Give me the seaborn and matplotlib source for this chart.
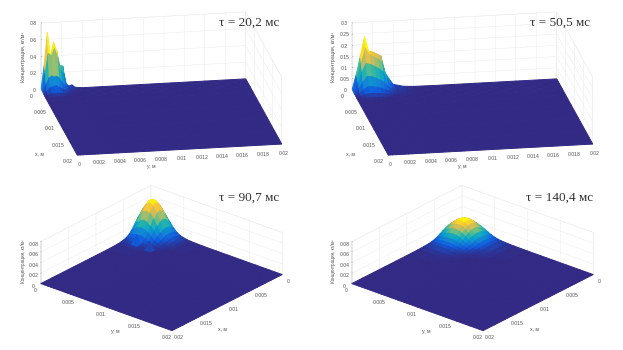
import numpy as np
import matplotlib
matplotlib.use('Agg')
import matplotlib.pyplot as plt
import seaborn as sns

# узлы сетки, мм
x_top_1 = [0, .5, 1, 1.5, 2, 2.5, 4, 8, 12, 16, 20]
y_top_1 = [0, .3, .6, .9, 1.2, 1.5, 1.8, 2.1, 2.4, 2.7, 3, 3.3, 4, 8, 12, 16, 20]
x_top_2 = [0, .5, 1, 1.5, 2, 2.5, 3, 3.5, 5, 8, 12, 16, 20]
y_top_2 = [0, .4, .8, 1.2, 1.6, 2, 2.4, 2.8, 3.2, 3.6, 4, 5, 6, 8, 12, 16, 20]
nodes_3 = [0, .5, 1, 1.5, 2, 2.5, 3, 3.5, 4, 4.5, 5, 5.5, 6, 8, 10, 12, 14, 16, 18, 20]
nodes_4 = [0, .5, 1, 1.5, 2, 2.5, 3, 3.5, 4, 4.5, 5, 5.5, 6, 7, 8, 10, 12, 14, 16, 18, 20]

# концентрация у угла области, остальная поверхность равна нулю
conc_1 = [
    [.02, .30, .68, .40, .56, .46, .28, .27, .06, .03, .04, .01],
    [.01, .22, .45, .42, .50, .40, .24, .20, .05, .02, .03, .01],
    [.01, .10, .18, .20, .20, .18, .13, .08, .03, .01, .02, .005],
    [.005, .04, .08, .09, .10, .08, .06, .04, .015, .008, .008, .003],
    [.002, .012, .025, .03, .03, .025, .02, .012, .006, .003, .003, .001],
    [0, .003, .006, .006, .006, .006, .004, .003, .001, .001, .001, 0],
]
conc_2 = [
    [.003, .070, .150, .235, .170, .165, .155, .145, .070, .040, .015, .004, .001],
    [.002, .060, .125, .190, .160, .150, .140, .125, .065, .035, .013, .004, .001],
    [.001, .045, .095, .130, .125, .115, .105, .090, .050, .028, .011, .003, .001],
    [.001, .028, .055, .078, .078, .070, .062, .050, .030, .018, .007, .003, .001],
    [.001, .013, .028, .040, .040, .036, .032, .025, .016, .010, .004, .002, .001],
    [0, .006, .012, .016, .017, .016, .014, .011, .007, .004, .002, .001, 0],
    [0, .002, .004, .005, .006, .005, .004, .003, .002, .001, .001, 0, 0],
    [0, .001, .001, .001, .001, .001, .001, .001, .001, 0, 0, 0, 0],
]
conc_3 = [
    [21.6, 29.7, 36, 38.4, 36, 29.7, 21.6, 13.8, 7.8, 4.6, 2.7, 1.5, .8],
    [29.7, 40.8, 49.4, 52.7, 49.4, 40.8, 29.7, 19, 10.7, 6.3, 3.7, 2.1, 1.1],
    [36, 49.4, 59.8, 63.8, 59.8, 49.4, 36, 23, 13, 7.7, 4.5, 2.6, 1.3],
    [38.4, 52.7, 63.8, 68, 63.8, 52.7, 38.4, 24.5, 13.8, 8.2, 4.8, 2.7, 1.4],
    [36, 49.4, 59.8, 63.8, 59.8, 49.4, 36, 23, 13, 7.7, 4.5, 2.6, 1.3],
    [29.7, 40.8, 49.4, 52.7, 49.4, 40.8, 29.7, 19, 10.7, 6.3, 3.7, 2.1, 1.1],
    [21.6, 29.7, 36, 38.4, 36, 29.7, 21.6, 13.8, 7.8, 4.6, 2.7, 1.5, .8],
    [13.8, 19, 23, 24.5, 23, 19, 13.8, 8.9, 5, 3, 1.7, 1, .5],
    [7.8, 10.7, 13, 13.8, 13, 10.7, 7.8, 5, 2.8, 1.7, 1, .6, .3],
    [4.6, 6.3, 7.7, 8.2, 7.7, 6.3, 4.6, 3, 1.7, 1, .6, .3, .2],
    [2.7, 3.7, 4.5, 4.8, 22, 3.7, 2.7, 1.7, 17, .6, .3, .2, .1],
    [1.5, 2.1, 2.6, 2.7, 2.6, 2.1, 1.5, 1, .6, .3, .2, .1, .1],
    [.8, 1.1, 1.3, 1.4, 1.3, 1.1, .8, .5, .3, .2, .1, .1, 0],
]
conc_4 = [
    [9, 12.2, 15.1, 17.2, 18, 17.2, 15.1, 12.2, 9, 6.1, 3.8, 2.3, 1.4, .7, .3],
    [12.2, 16.5, 20.5, 23.3, 24.4, 23.3, 20.5, 16.5, 12.2, 8.3, 5.1, 3.2, 2, 1, .4],
    [15.1, 20.5, 25.5, 29, 30.3, 29, 25.5, 20.5, 15.1, 10.3, 6.4, 3.9, 2.4, 1.2, .5],
    [17.2, 23.3, 29, 33, 34.5, 33, 29, 23.3, 17.2, 11.7, 7.2, 4.5, 2.8, 1.4, .5],
    [18, 24.4, 30.3, 34.5, 36, 34.5, 30.3, 24.4, 18, 12.2, 7.6, 4.7, 2.9, 1.4, .5],
    [17.2, 23.3, 29, 33, 34.5, 33, 29, 23.3, 17.2, 11.7, 7.2, 4.5, 2.8, 1.4, .5],
    [15.1, 20.5, 25.5, 29, 30.3, 29, 25.5, 20.5, 15.1, 10.3, 6.4, 3.9, 2.4, 1.2, .5],
    [12.2, 16.5, 20.5, 23.3, 24.4, 23.3, 20.5, 16.5, 12.2, 8.3, 5.1, 3.2, 2, 1, .4],
    [9, 12.2, 15.1, 17.2, 18, 17.2, 15.1, 12.2, 9, 6.1, 3.8, 2.3, 1.4, .7, .3],
    [6.1, 8.3, 10.3, 11.7, 12.2, 11.7, 10.3, 8.3, 6.1, 4.1, 2.6, 1.6, 1, .5, .2],
    [3.8, 5.1, 6.4, 7.2, 7.6, 7.2, 6.4, 5.1, 3.8, 2.6, 1.6, 1, .6, .3, .1],
    [2.3, 3.2, 3.9, 4.5, 4.7, 4.5, 3.9, 3.2, 2.3, 1.6, 1, .6, .4, .2, .1],
    [1.4, 2, 2.4, 2.8, 2.9, 2.8, 2.4, 2, 1.4, 1, .6, .4, .2, .1, 0],
    [.7, 1, 1.2, 1.4, 1.4, 1.4, 1.2, 1, .7, .5, .3, .2, .1, .1, 0],
    [.3, .4, .5, .5, .5, .5, .5, .4, .3, .2, .1, .1, 0, 0, 0],
]

titles = ['τ = 20,2 мс', 'τ = 50,5 мс', 'τ = 90,7 мс', 'τ = 140,4 мс']
z_tops = [.8, .3, .08, .08]
color_tops = [.5, .19, .066, .035]
z_ticks_top = [[0, .2, .4, .6, .8], [0, .05, .1, .15, .2, .25, .3]]
z_ticks_bottom = [0, .02, .04, .06, .08]
y_ticks_fine = [0, .002, .004, .006, .008, .01, .012, .014, .016, .018, .02]
ticks_coarse = [0, .005, .01, .015, .02]
z_label = 'Концентрация, кг/м³'

parula = ['#322a84', '#0f5cdd', '#1481d6', '#06a4ca', '#2eb7a4',
          '#87bf77', '#d1bb59', '#fec832', '#f9fb0e']

sns.set_theme(style='white', rc={'grid.color': '#ececec', 'grid.linewidth': .35,
                                 'axes.linewidth': .35, 'axes.edgecolor': '#c8c8c8'})
plt.rcParams['font.family'] = ['Liberation Sans', 'DejaVu Sans']
cmap = sns.blend_palette(parula, as_cmap=True)

W, H = 623, 350
AX = 300
fig = plt.figure(figsize=(W / 100, H / 100), dpi=100)


def surface_grid(x_mm, y_mm, block, scale=1.0):
    block = np.array(block) * scale
    pad_x = len(x_mm) - block.shape[0]
    pad_y = len(y_mm) - block.shape[1]
    z = np.pad(block, ((0, pad_x), (0, pad_y)))
    x, y = np.meshgrid(np.array(x_mm) * 1e-3, np.array(y_mm) * 1e-3, indexing='ij')
    return x, y, z


def px_text(px, py, s, **kw):
    fig.text(px / W, 1 - py / H, s, ha='center', va='center', **kw)


def draw_panel(cx, cy, view, box, zoom, grid, z_top, color_top, x_ticks, y_ticks, z_ticks, z_side):
    rect = [(cx - .5135 * AX) / W, (H - cy - .5135 * AX) / H, AX / W, AX / H]
    ax = fig.add_axes(rect, projection='3d', proj_type='ortho')
    ax.set_facecolor('none')
    ax.view_init(elev=view[0], azim=view[1])
    ax.set_box_aspect(box, zoom=zoom)
    x, y, z = grid
    surf = ax.plot_surface(x, y, z, cmap=cmap, vmin=0, vmax=color_top, rstride=1, cstride=1,
                           shade=False, linewidth=.7, antialiased=True)
    surf.set_edgecolor('face')
    ax.set_xlim(0, .02, view_margin=0)
    ax.set_ylim(0, .02, view_margin=0)
    ax.set_zlim(0, z_top, view_margin=0)
    ax.set_xticks(x_ticks, [f'{t:g}' for t in x_ticks])
    ax.set_yticks(y_ticks, [f'{t:g}' for t in y_ticks])
    ax.set_zticks(z_ticks, [f'{t:g}' for t in z_ticks])
    for axis in (ax.xaxis, ax.yaxis, ax.zaxis):
        axis.pane.set_fill(False)
        axis.pane.set_edgecolor('#dddddd')
        axis.pane.set_linewidth(.35)
        axis.line.set_color('#bbbbbb')
        axis.line.set_linewidth(.35)
        axis._axinfo['tick']['inward_factor'] = 0
        axis._axinfo['tick']['outward_factor'] = .03
        axis._axinfo['tick']['linewidth'] = {True: .3, False: .3}
    ax.zaxis.set_ticks_position(z_side)
    ax.tick_params(labelsize=3.7, colors='#555555', pad=-2.5)
    ax.tick_params(axis='z', pad=-4.5)
    return ax


top_view = (18.2, -9.8)
top_box = (1, .98, .333)
bottom_view = (25.3, 40)
bottom_box = (1, 1, .272)

panels = [
    (161.5, 83.5, top_view, top_box, .986, surface_grid(x_top_1, y_top_1, conc_1), z_ticks_top[0], y_ticks_fine, 'lower'),
    (472.5, 83.5, top_view, top_box, .986, surface_grid(x_top_2, y_top_2, conc_2), z_ticks_top[1], y_ticks_fine, 'lower'),
    (161.5, 258, bottom_view, bottom_box, .798, surface_grid(nodes_3, nodes_3, conc_3, 1e-3), z_ticks_bottom, ticks_coarse, 'default'),
    (472.5, 258, bottom_view, bottom_box, .798, surface_grid(nodes_4, nodes_4, conc_4, 1e-3), z_ticks_bottom, ticks_coarse, 'default'),
]

for i, (cx, cy, view, box, zoom, grid, z_ticks, y_ticks, z_side) in enumerate(panels):
    draw_panel(cx, cy, view, box, zoom, grid, z_tops[i], color_tops[i], ticks_coarse, y_ticks, z_ticks, z_side)
    dx = 311 if i % 2 else 0
    label_color = '#555555'
    if i < 2:
        px_text(24 - (2 if i else 0) + dx, 57, z_label, rotation=90, fontsize=3.9, color=label_color)
        px_text(40 + dx, 154, 'x, м', fontsize=3.7, color=label_color)
        px_text(151 + dx, 167, 'y, м', fontsize=3.7, color=label_color)
        px_text(249 + dx, 23, titles[i], fontsize=9.5, color='#333333',
                family=['Liberation Serif', 'DejaVu Serif'])
    else:
        px_text(23 + dx, 261, z_label, rotation=90, fontsize=3.3, color=label_color)
        px_text(115 + dx, 331, 'y, м', fontsize=3.7, color=label_color)
        px_text(223 + dx, 329, 'x, м', fontsize=3.7, color=label_color)
        px_text(249 + dx, 198, titles[i], fontsize=9.5, color='#333333',
                family=['Liberation Serif', 'DejaVu Serif'])

fig.savefig('out.png', dpi=100)
